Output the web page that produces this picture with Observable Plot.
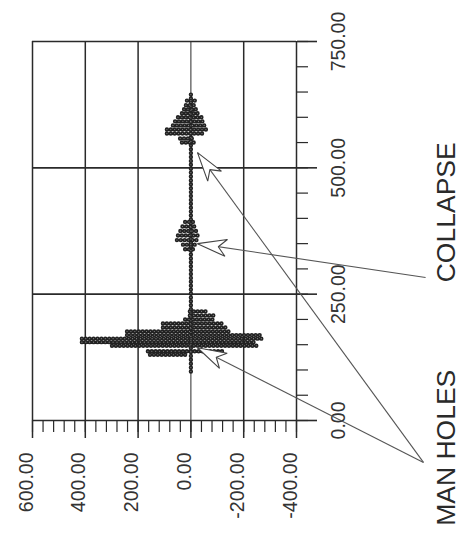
<!DOCTYPE html>
<html><head><meta charset="utf-8">
<script src="https://cdn.jsdelivr.net/npm/d3@7"></script>
<script src="https://cdn.jsdelivr.net/npm/@observablehq/plot@0.6"></script>
<style>html,body{margin:0;padding:0;background:#fff;} svg{display:block}</style>
</head><body><div id="chart"></div>
<script>
// Value axis (shown horizontally, reversed)
const valueTicks = [600, 400, 200, 0, -200, -400];
const valueTickLabels = ["600.00", "400.00", "200.00", "0.00", "-200.00", "-400.00"];
const valueMinorTicks = [600, 560, 520, 480, 440, 400, 360, 320, 280, 240, 200, 160, 120, 80, 40, 0,
  -40, -80, -120, -160, -200, -240, -280, -320, -360, -400];

// Distance axis (shown vertically)
const distanceTicks = [0, 250, 500, 750];
const distanceTickLabels = ["0.00", "250.00", "500.00", "750.00"];
const distanceMinorTicks = [0, 50, 100, 150, 200, 250, 300, 350, 400, 450, 500, 550, 600, 650, 700, 750];

// Trace: each sample row (distance) with its upper and lower excursion
const traceDistance = [633, 624, 616, 608, 600, 592, 584, 576, 568, 558, 550,
  393, 384, 375, 366, 357, 348, 339,
  216, 208, 200, 192, 184, 176, 169, 162, 155, 148, 137, 130];
const traceUpper = [13, 17, 24, 32, 47, 58, 66, 89, 89, 39, 32,
  20, 30, 38, 47, 51, 28, 20,
  2, 2, 20, 104, 104, 240, 240, 411, 411, 297, 161, 153];
const traceLower = [-17, -21, -25, -33, -44, -48, -55, -63, -55, -17, -22,
  -22, -28, -34, -36, -30, -25, -22,
  -63, -93, -93, -123, -142, -150, -264, -271, -252, -252, -131, 9];

// Continuous trace along the centre line
const spineValue = [0];
const spineStart = [96];
const spineEnd = [644];

// Annotations
const annotationText = ["COLLAPSE", "MAN HOLES"];
const annotationValue = [-968, -968];
const annotationDistance = [412, -54];

const arrowTailValue = [-889, -881, -881];
const arrowTailDistance = [283, -83, -83];
const arrowTipValue = [-25, -25, -25];
const arrowTipDistance = [350, 530, 144];

const rows = traceDistance.map((d, i) => ({d, hi: traceUpper[i], lo: traceLower[i]}));
const spine = spineValue.map((v, i) => ({v, a: spineStart[i], b: spineEnd[i]}));
const notes = annotationText.map((t, i) => ({t, x: annotationValue[i], y: annotationDistance[i]}));
const arrows = arrowTipValue.map((v, i) => ({x1: arrowTailValue[i], y1: arrowTailDistance[i], x2: v, y2: arrowTipDistance[i]}));
const xLabels = valueTicks.map((v, i) => ({v, t: valueTickLabels[i]}));
const yLabels = distanceTicks.map((v, i) => ({v, t: distanceTickLabels[i]}));

const ink = "#2a2a2a";
const bead = {stroke: "#222", strokeWidth: 4.4, strokeDasharray: "0 3.9", strokeLinecap: "round"};
const beadCore = {stroke: "#8c8c8c", strokeWidth: 1.1, strokeDasharray: "0 3.9", strokeLinecap: "round"};

const chart = Plot.plot({
  width: 465, height: 539,
  marginLeft: 32, marginRight: 169, marginTop: 41, marginBottom: 119,
  x: {domain: [600, -400], label: null},
  y: {domain: [0, 750], label: null},
  style: {fontFamily: "'Liberation Sans', Arial, Helvetica, sans-serif", background: "#fff", overflow: "visible"},
  marks: [
    Plot.ruleX(valueTicks, {x: d => d, stroke: ink, strokeWidth: d => d === 0 ? 1 : 1.5}),
    Plot.ruleY(distanceTicks, {y: d => d, stroke: ink, strokeWidth: 1.6}),
    Plot.axisX({anchor: "bottom", ticks: valueMinorTicks, tickSize: 12, tickFormat: () => "", label: null, stroke: ink, strokeWidth: 1.2}),
    Plot.axisX({anchor: "bottom", ticks: valueTicks, tickSize: 18, tickFormat: () => "", label: null, stroke: ink, strokeWidth: 1.5}),
    Plot.axisY({anchor: "right", ticks: distanceMinorTicks, tickSize: 11, tickFormat: () => "", label: null, stroke: ink, strokeWidth: 1.2}),
    Plot.axisY({anchor: "right", ticks: distanceTicks, tickSize: 20, tickFormat: () => "", label: null, stroke: ink, strokeWidth: 1.6}),
    Plot.ruleX(spine, {x: "v", y1: "a", y2: "b", ...bead}),
    Plot.ruleY(rows, {y: "d", x1: "hi", x2: "lo", ...bead}),
    Plot.ruleX(spine, {x: "v", y1: "a", y2: "b", ...beadCore}),
    Plot.ruleY(rows, {y: "d", x1: "hi", x2: "lo", ...beadCore}),
    Plot.text(xLabels, {x: "v", text: "t", frameAnchor: "bottom", dy: 32, rotate: -90, textAnchor: "end", fontSize: 19.5, fill: "#333"}),
    Plot.text(yLabels, {y: "v", text: "t", frameAnchor: "right", dx: 42, rotate: -90, textAnchor: "middle", fontSize: 19.5, fill: "#333"}),
    Plot.link(arrows, {
      x1: "x1", y1: "y1", x2: "x2", y2: "y2", stroke: "#555", strokeWidth: 1.1,
      render(index, scales, values, dimensions, context, next) {
        const g = next(index, scales, values, dimensions, context);
        const {x1: X1, y1: Y1, x2: X2, y2: Y2} = values;
        for (const i of index) {
          const a = Math.atan2(Y2[i] - Y1[i], X2[i] - X1[i]) * 180 / Math.PI;
          const p = document.createElementNS("http://www.w3.org/2000/svg", "path");
          p.setAttribute("d", "M0,0L-29,-8.5L-21,0L-29,8.5Z");
          p.setAttribute("transform", `translate(${X2[i]},${Y2[i]}) rotate(${a})`);
          p.setAttribute("fill", "#fff");
          p.setAttribute("stroke", "#444");
          p.setAttribute("stroke-width", "1.1");
          g.appendChild(p);
        }
        return g;
      }
    }),
    Plot.text(notes, {x: "x", y: "y", text: "t", rotate: -90, textAnchor: "middle", fontSize: 26.5, fill: "#2a2a2a"})
  ]
});
document.getElementById("chart").appendChild(chart);
</script>
</body></html>
